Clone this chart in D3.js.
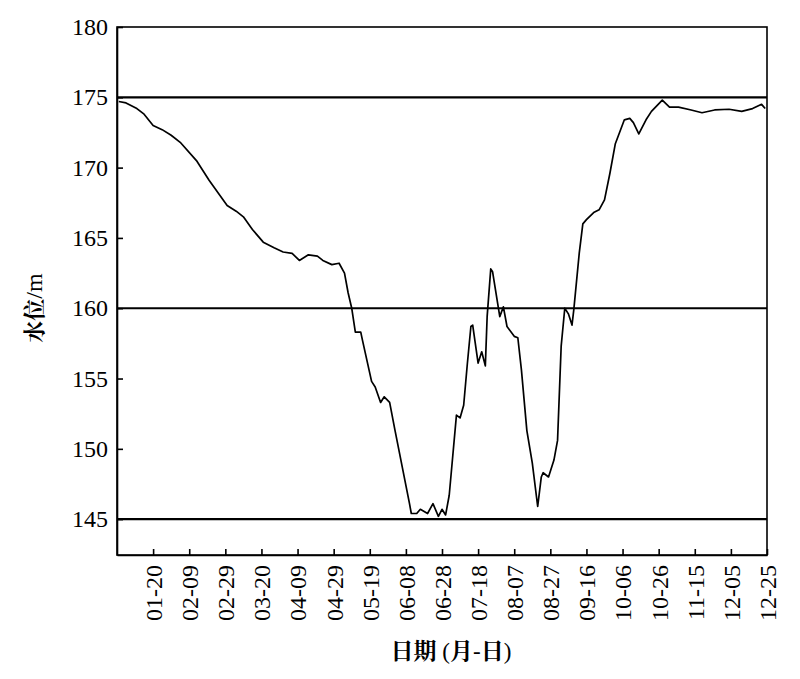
<!DOCTYPE html>
<html><head><meta charset="utf-8">
<script src="https://cdn.jsdelivr.net/npm/d3@7"></script>
<style>body{margin:0;background:#fff}svg{display:block}</style>
</head><body><svg id="c" width="800" height="679"></svg>
<script>
const dates = ["01-01","01-05","01-11","01-15","01-20","01-25","01-30","02-04","02-13","02-20","03-01","03-06","03-10","03-15","03-21","03-27","04-01","04-06","04-10","04-15","04-20","04-23","04-28","05-02","05-05","05-07","05-09","05-11","05-14","05-15","05-20","05-22","05-25","05-27","05-30","06-02","06-06","06-10","06-11","06-14","06-16","06-20","06-23","06-26","06-28","06-30","07-02","07-06","07-08","07-10","07-12","07-14","07-15","07-18","07-20","07-22","07-23","07-25","07-26","07-30","08-01","08-03","08-07","08-09","08-11","08-14","08-17","08-20","08-22","08-23","08-26","08-29","08-31","09-02","09-04","09-06","09-08","09-09","09-12","09-14","09-16","09-20","09-23","09-26","09-29","10-02","10-07","10-10","10-12","10-15","10-19","10-22","10-28","11-01","11-06","11-13","11-19","11-26","12-04","12-11","12-17","12-22","12-24"];
const levels = [174.7,174.6,174.2,173.8,173.0,172.7,172.3,171.8,170.5,169.1,167.3,166.9,166.5,165.6,164.7,164.3,164.0,163.9,163.4,163.8,163.7,163.4,163.1,163.2,162.5,161.1,160.0,158.3,158.3,157.7,154.8,154.4,153.3,153.7,153.3,151.3,148.7,146.1,145.4,145.4,145.7,145.4,146.1,145.2,145.7,145.3,146.7,152.4,152.2,153.1,156.0,158.7,158.8,156.1,156.9,155.9,159.4,162.8,162.6,159.4,160.1,158.7,158.0,157.9,155.6,151.3,149.0,145.9,148.0,148.3,148.0,149.2,150.6,157.3,160.0,159.6,158.8,159.9,163.9,166.0,166.3,166.8,167.0,167.7,169.6,171.7,173.4,173.5,173.2,172.4,173.4,174.0,174.8,174.3,174.3,174.1,173.9,174.1,174.15,174.0,174.2,174.5,174.2];
const refLevels = [145, 160, 175];
const yTicks = [145, 150, 155, 160, 165, 170, 175, 180];
const xTickLabels = ["01-20","02-09","02-29","03-20","04-09","04-29","05-19","06-08","06-28","07-18","08-07","08-27","09-16","10-06","10-26","11-15","12-05","12-25"];

const svg = d3.select("#c");
const m = {l:117, r:33, t:27, b:124};
const W = 800 - m.l - m.r, H = 679 - m.t - m.b;
const parse = s => new Date(2020, +s.slice(0,2)-1, +s.slice(3,5));
const x = d3.scaleTime().domain([new Date(2019,11,31), new Date(2020,11,25)]).range([m.l, m.l+W]);
const y = d3.scaleLinear().domain([142.45, 180]).range([m.t+H, m.t]);
const LAT = "Liberation Serif", CJK = "Noto Serif CJK SC";

// frame
svg.append("rect").attr("x",m.l).attr("y",m.t).attr("width",W).attr("height",H)
  .attr("fill","none").attr("stroke","#000").attr("stroke-width",1.6);

// y axis
const ya = svg.append("g").attr("transform",`translate(${m.l},0)`)
  .call(d3.axisLeft(y).tickValues(yTicks).tickSizeInner(-6).tickSizeOuter(0).tickPadding(9).tickFormat(d3.format("d")));
ya.attr("font-family",LAT).attr("font-size",24);
ya.select(".domain").attr("stroke-width",1.6);
ya.selectAll("line").attr("stroke-width",1.6);
ya.selectAll("text").attr("fill","#000");

// x axis
const xa = svg.append("g").attr("transform",`translate(0,${m.t+H})`)
  .call(d3.axisBottom(x).tickValues(xTickLabels.map(parse)).tickSizeInner(-6).tickSizeOuter(0).tickFormat(d3.timeFormat("%m-%d")));
xa.attr("font-family",LAT).attr("font-size",24);
xa.select(".domain").attr("stroke-width",1.6);
xa.selectAll("line").attr("stroke-width",1.6);
xa.selectAll("text").attr("fill","#000")
  .attr("transform","rotate(-90)").attr("text-anchor","end").attr("dy","0.35em").attr("x",-10).attr("y",0);

// reference lines
svg.append("g").selectAll("line").data(refLevels).join("line")
  .attr("x1",m.l).attr("x2",m.l+W).attr("y1",d=>y(d)).attr("y2",d=>y(d))
  .attr("stroke","#000").attr("stroke-width",2.2);

// water level line
const data = dates.map((d,i)=>({d:parse(d), v:levels[i]}));
svg.append("path").datum(data)
  .attr("fill","none").attr("stroke","#000").attr("stroke-width",1.7).attr("stroke-linejoin","round")
  .attr("d", d3.line().x(p=>x(p.d)).y(p=>y(p.v)));

// titles
const yt = svg.append("text").attr("transform","translate(42,308) rotate(-90)").attr("text-anchor","middle")
  .attr("font-size",22);
yt.append("tspan").attr("font-family",CJK).attr("font-weight","bold").text("水位");
yt.append("tspan").attr("font-family",LAT).attr("font-size",24).text("/m");
const xt = svg.append("text").attr("x",451).attr("y",659).attr("text-anchor","middle").attr("font-size",23);
xt.append("tspan").attr("font-family",CJK).attr("font-weight","bold").text("日期");
xt.append("tspan").attr("font-family",LAT).text(" (");
xt.append("tspan").attr("font-family",CJK).attr("font-weight","bold").text("月");
xt.append("tspan").attr("font-family",LAT).text("-");
xt.append("tspan").attr("font-family",CJK).attr("font-weight","bold").text("日");
xt.append("tspan").attr("font-family",LAT).text(")");
</script></body></html>
